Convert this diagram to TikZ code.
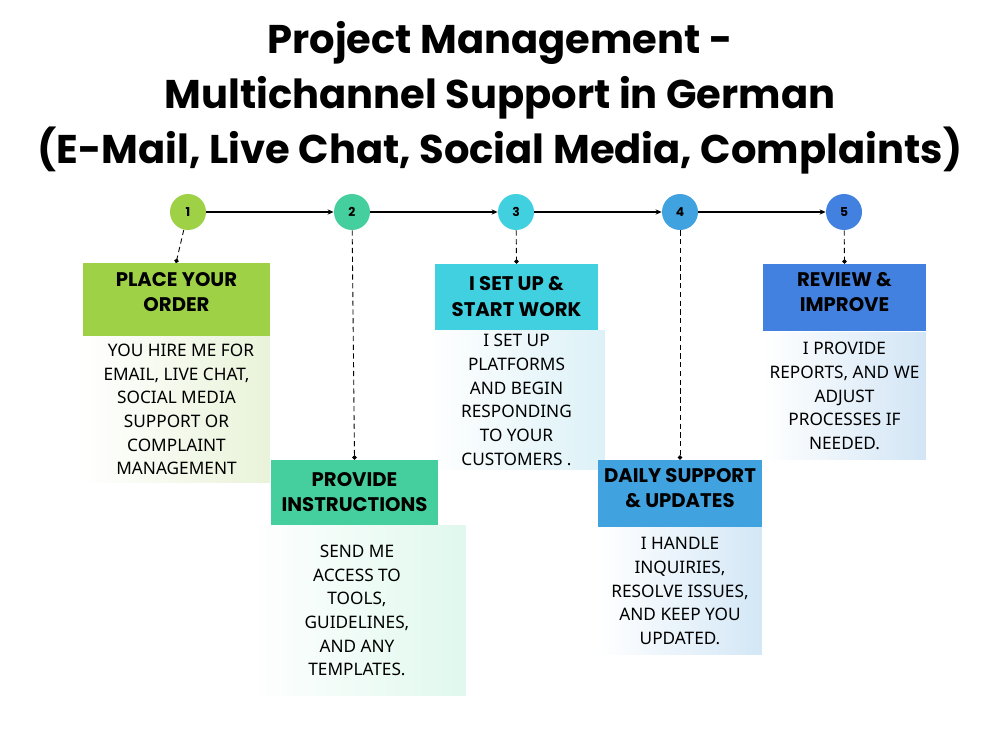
\documentclass[tikz,border=0pt]{standalone}
\usepackage{fontspec}
\setmainfont{Noto Sans}
\newfontfamily\titlefont{Poppins}
\newfontfamily\hdrfont{Poppins}
\newfontfamily\bodyfont{Noto Sans}
\usetikzlibrary{arrows.meta,shadings}
\definecolor{cA}{HTML}{9FD147}
\definecolor{cB}{HTML}{46CF9E}
\definecolor{cC}{HTML}{40D0E0}
\definecolor{cD}{HTML}{41A2E0}
\definecolor{cE}{HTML}{4381E0}
\definecolor{bA}{HTML}{E9F3D9}
\definecolor{bB}{HTML}{E0F8EE}
\definecolor{bC}{HTML}{DCF1F7}
\definecolor{bD}{HTML}{D3E7F6}
\definecolor{bE}{HTML}{D2E5F5}
\tikzset{
  stepcirc/.style={circle,minimum size=0.72cm,inner sep=0pt,font=\hdrfont\bfseries\fontsize{7}{8}\selectfont},
  hdrbox/.style={rectangle,inner sep=0pt},
  hdrtext/.style={inner sep=0pt,align=center,font=\hdrfont\bfseries\fontsize{11.2}{14.6}\selectfont},
  bodybox/.style={rectangle,inner sep=0pt,align=center,shading=axis,shading angle=45,left color=white,font=\bodyfont\fontsize{9.8}{13.5}\selectfont},
  flow/.style={-{Stealth[length=3.5pt,width=3pt]},line width=0.6pt},
  link/.style={densely dashed,line width=0.5pt,-{Circle[length=2.5pt]}},
}
\begin{document}
\begin{tikzpicture}[x=0.02cm,y=-0.02cm]
\useasboundingbox (0,0) rectangle (1000,750);
\fill[white] (0,0) rectangle (1000,750);
% title
\node[font=\titlefont\bfseries\fontsize{22.8}{31.4}\selectfont,align=center] (title) at (500,98)
  {Project Management -\\Multichannel Support in German\\(E-Mail, Live Chat, Social Media, Complaints)};
% circles
\node[stepcirc,fill=cA] (s1) at (188,212) {1};
\node[stepcirc,fill=cB] (s2) at (352,212) {2};
\node[stepcirc,fill=cC] (s3) at (516,212) {3};
\node[stepcirc,fill=cD] (s4) at (680,212) {4};
\node[stepcirc,fill=cE] (s5) at (844,212) {5};
\draw[flow] (s1) -- (s2);
\draw[flow] (s2) -- (s3);
\draw[flow] (s3) -- (s4);
\draw[flow] (s4) -- (s5);
% bodies
\node[bodybox,right color=bA,minimum width=3.74cm,minimum height=2.94cm] (b1) at (176.5,409.5)
  {\ \ YOU HIRE ME FOR\\EMAIL, LIVE CHAT,\\SOCIAL MEDIA\\SUPPORT OR\\COMPLAINT\\MANAGEMENT};
\node[bodybox,right color=bB,minimum width=4.36cm,minimum height=3.42cm] (b2) at (357,610.5)
  {SEND ME\\ACCESS TO\\TOOLS,\\GUIDELINES,\\AND ANY\\TEMPLATES.};
\node[bodybox,right color=bC,minimum width=3.54cm,minimum height=2.80cm] (b3) at (516.5,400)
  {I SET UP\\PLATFORMS\\AND BEGIN\\RESPONDING\\TO YOUR\\CUSTOMERS .};
\node[bodybox,right color=bD,minimum width=3.28cm,minimum height=2.56cm] (b4) at (680,591)
  {I HANDLE\\INQUIRIES,\\RESOLVE ISSUES,\\AND KEEP YOU\\UPDATED.};
\node[bodybox,right color=bE,minimum width=3.26cm,minimum height=2.54cm] (b5) at (844.5,396)
  {I PROVIDE\\REPORTS, AND WE\\ADJUST\\PROCESSES IF\\NEEDED.};
% headers
\node[hdrbox,fill=cA,minimum width=3.74cm,minimum height=1.46cm] (h1) at (176.5,299.5) {};
\node[hdrbox,fill=cB,minimum width=3.34cm,minimum height=1.30cm] (h2) at (354.5,492.5) {};
\node[hdrbox,fill=cC,minimum width=3.26cm,minimum height=1.32cm] (h3) at (516.5,297) {};
\node[hdrbox,fill=cD,minimum width=3.28cm,minimum height=1.34cm] (h4) at (680,493.5) {};
\node[hdrbox,fill=cE,minimum width=3.26cm,minimum height=1.34cm] (h5) at (844.5,297.5) {};
\node[hdrtext] (h1t) at (176.5,292) {PLACE YOUR\\ORDER};
\node[hdrtext] (h2t) at (354.5,492) {PROVIDE\\INSTRUCTIONS};
\node[hdrtext] (h3t) at (516.5,296.5) {I SET UP \&\\START WORK};
\node[hdrtext] (h4t) at (680,488) {DAILY SUPPORT\\\& UPDATES};
\node[hdrtext] (h5t) at (844.5,292) {REVIEW \&\\IMPROVE};
% links
\coordinate (t1) at (176,263);
\draw[link] (s1) -- (t1);
\draw[link] (s2) -- (h2.north);
\draw[link] (s3) -- (h3.north);
\draw[link] (s4) -- (h4.north);
\draw[link] (s5) -- (h5.north);
\end{tikzpicture}
\end{document}
